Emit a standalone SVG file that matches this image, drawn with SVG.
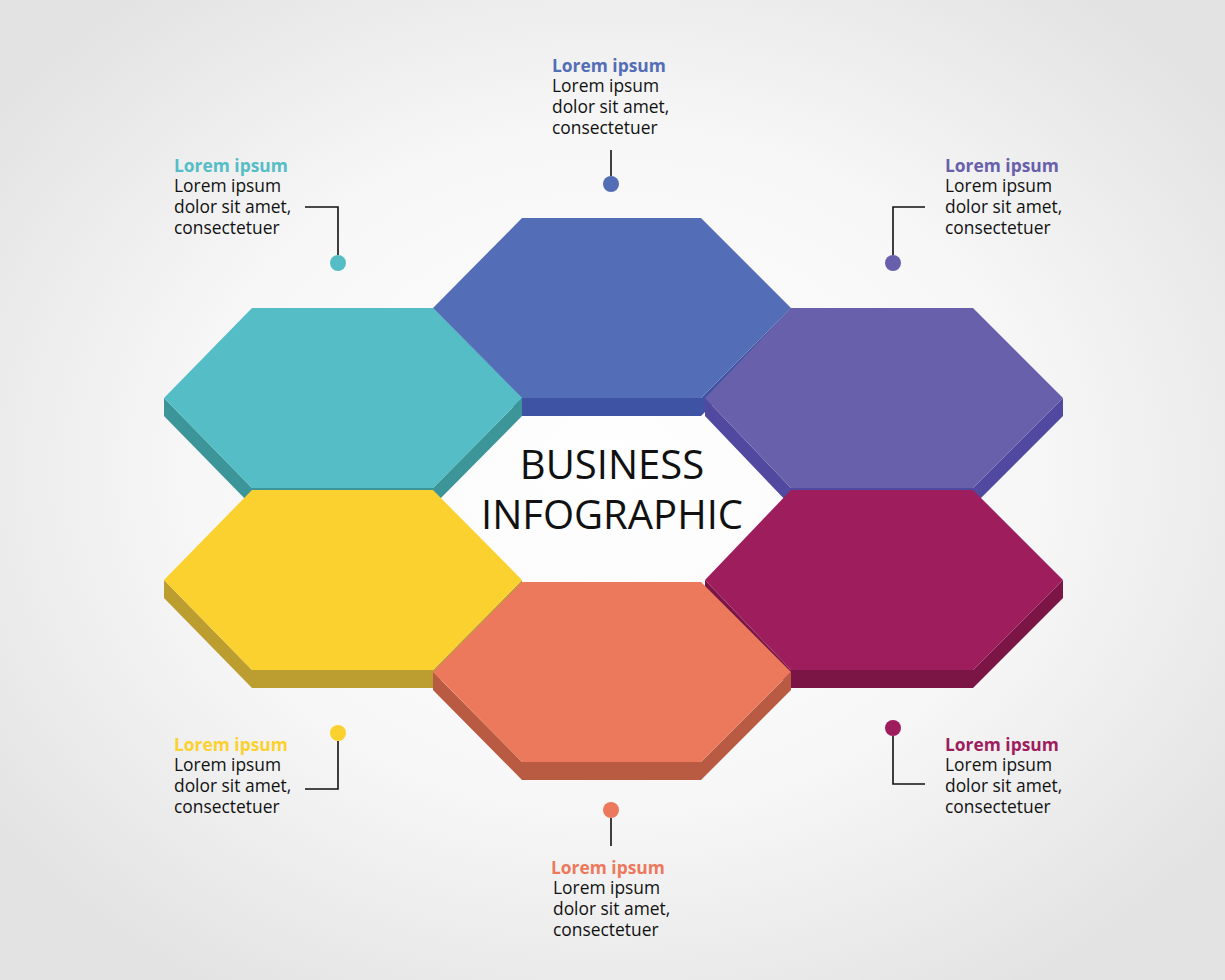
<svg xmlns="http://www.w3.org/2000/svg" width="1225" height="980" viewBox="0 0 1225 980">
<defs>
<radialGradient id="bg" cx="50%" cy="48%" r="62%"><stop offset="0" stop-color="#ffffff"/><stop offset="0.55" stop-color="#f7f7f7"/><stop offset="1" stop-color="#e3e3e3"/></radialGradient>
</defs>
<style>
text{font-family:"Open Sans","DejaVu Sans",sans-serif;font-size:17.4px;fill:#111}
.t{font-weight:bold}
.c{font-size:40px;text-anchor:middle}
.ln{fill:none;stroke:#111;stroke-width:1.6}
</style>
<rect width="1225" height="980" fill="url(#bg)"/>
<g id="hex-blue">
<polygon points="433,308 433,326 522,416 701,416 791,326 791,308 701,398 522,398" fill="#3e53a3"/>
<polygon points="522,218 701,218 791,308 701,398 522,398 433,308" fill="#536db6"/>
</g>
<g id="hex-teal">
<polygon points="164,398 164,416 252,506 433,506 522,416 522,398 433,488 252,488" fill="#3c9599"/>
<polygon points="252,308 433,308 522,398 433,488 252,488 164,398" fill="#55bdc6"/>
</g>
<g id="hex-purple">
<polygon points="705,398 705,416 791,506 973,506 1063,416 1063,398 973,488 791,488" fill="#5149a0"/>
<polygon points="791,308 973,308 1063,398 973,488 791,488 705,398" fill="#6860ab"/>
</g>
<g id="hex-yellow">
<polygon points="164,580 164,598 252,688 433,688 522,598 522,580 433,670 252,670" fill="#bc9d30"/>
<polygon points="252,490 433,490 522,580 433,670 252,670 164,580" fill="#fbd130"/>
</g>
<g id="hex-magenta">
<polygon points="705,580 705,598 791,688 973,688 1063,598 1063,580 973,670 791,670" fill="#7a1545"/>
<polygon points="791,490 973,490 1063,580 973,670 791,670 705,580" fill="#9e1d5d"/>
</g>
<g id="hex-orange">
<polygon points="433,672 433,690 522,780 701,780 791,690 791,672 701,762 522,762" fill="#b85b42"/>
<polygon points="522,582 701,582 791,672 701,762 522,762 433,672" fill="#ec795c"/>
</g>
<g id="center">
<text class="c" x="612" y="479">BUSINESS</text>
<text class="c" x="612" y="529">INFOGRAPHIC</text>
</g>
<g id="connectors">
<path class="ln" d="M611,150V176"/>
<path class="ln" d="M305,207H338V255"/>
<path class="ln" d="M925,207H893V255"/>
<path class="ln" d="M338,741V789H305"/>
<path class="ln" d="M893,736V784H925"/>
<path class="ln" d="M611,818V846"/>
<circle cx="611" cy="184" r="8" fill="#536db6"/>
<circle cx="338" cy="263" r="8" fill="#55bdc6"/>
<circle cx="893" cy="263" r="8" fill="#6860ab"/>
<circle cx="338" cy="733" r="8" fill="#fbd130"/>
<circle cx="893" cy="728" r="8" fill="#9e1d5d"/>
<circle cx="611" cy="810" r="8" fill="#ec795c"/>
</g>
<g id="label-top"><text class="t" x="552" y="72" style="fill:#536db6">Lorem ipsum</text><text x="552" y="92">Lorem ipsum</text><text x="552" y="113">dolor sit amet,</text><text x="552" y="134">consectetuer</text></g>
<g id="label-teal"><text class="t" x="174" y="172" style="fill:#55bdc6">Lorem ipsum</text><text x="174" y="192">Lorem ipsum</text><text x="174" y="213">dolor sit amet,</text><text x="174" y="234">consectetuer</text></g>
<g id="label-purple"><text class="t" x="945" y="172" style="fill:#6860ab">Lorem ipsum</text><text x="945" y="192">Lorem ipsum</text><text x="945" y="213">dolor sit amet,</text><text x="945" y="234">consectetuer</text></g>
<g id="label-yellow"><text class="t" x="174" y="751" style="fill:#fbd130">Lorem ipsum</text><text x="174" y="771">Lorem ipsum</text><text x="174" y="792">dolor sit amet,</text><text x="174" y="813">consectetuer</text></g>
<g id="label-magenta"><text class="t" x="945" y="751" style="fill:#9e1d5d">Lorem ipsum</text><text x="945" y="771">Lorem ipsum</text><text x="945" y="792">dolor sit amet,</text><text x="945" y="813">consectetuer</text></g>
<g id="label-orange"><text class="t" x="551" y="874" style="fill:#ec795c">Lorem ipsum</text><text x="553" y="894">Lorem ipsum</text><text x="553" y="915">dolor sit amet,</text><text x="553" y="936">consectetuer</text></g>
</svg>
